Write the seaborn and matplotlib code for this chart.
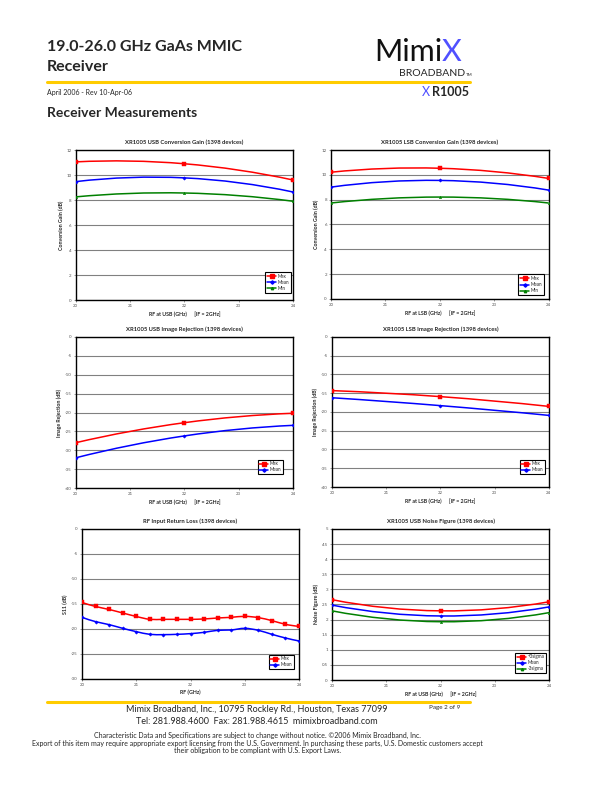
import matplotlib
matplotlib.use("Agg")
import matplotlib.pyplot as plt
import seaborn as sns
from matplotlib.path import Path
from matplotlib.patches import PathPatch
from matplotlib.lines import Line2D

# ---- data ----
freq = [20, 22, 24]

usb_gain_max = [11.05, 10.9, 9.6]
usb_gain_mean = [9.47, 9.77, 8.64]
usb_gain_min = [8.25, 8.56, 7.9]

lsb_gain_max = [10.21, 10.53, 9.71]
lsb_gain_mean = [9.01, 9.55, 8.77]
lsb_gain_min = [7.73, 8.21, 7.73]

usb_ir_max = [-28.0, -22.7, -20.2]
usb_ir_mean = [-32.0, -26.2, -23.4]

lsb_ir_max = [-14.3, -15.9, -18.5]
lsb_ir_mean = [-16.2, -18.3, -20.9]

rl_freq = [20, 20.25, 20.5, 20.75, 21, 21.25, 21.5, 21.75, 22,
           22.25, 22.5, 22.75, 23, 23.25, 23.5, 23.75, 24]
rl_max = [-14.7, -15.5, -16.1, -16.8, -17.5, -18.07, -18.07, -18.07, -18.07,
          -18.0, -17.8, -17.67, -17.47, -17.73, -18.33, -19.07, -19.47]
rl_mean = [-17.67, -18.53, -19.13, -19.87, -20.53, -21.07, -21.13, -21.07, -20.93,
           -20.67, -20.27, -20.2, -19.87, -20.27, -21.07, -21.8, -22.4]

nf_plus3 = [2.66, 2.29, 2.59]
nf_mean = [2.48, 2.12, 2.42]
nf_minus3 = [2.29, 1.93, 2.23]

RED, BLUE, GREEN = "#ff0000", "#0000ff", "#008000"
GOLD = "#ffcc00"

sns.set_theme(style="white")
plt.rcParams["font.family"] = ["Lato", "DejaVu Sans"]
plt.rcParams["axes.unicode_minus"] = False


def smooth_line(ax, x, y, color):
    # Excel-style smoothed line: cubic bezier through the points
    n = len(x)
    m = [0.0] * n
    for i in range(1, n - 1):
        m[i] = (y[i + 1] - y[i - 1]) / (x[i + 1] - x[i - 1])
    m[0] = 2 * (y[1] - y[0]) / (x[1] - x[0]) - m[1]
    m[-1] = 2 * (y[-1] - y[-2]) / (x[-1] - x[-2]) - m[-2]
    verts = [(x[0], y[0])]
    codes = [Path.MOVETO]
    for i in range(n - 1):
        h = (x[i + 1] - x[i]) / 3
        verts += [(x[i] + h, y[i] + m[i] * h),
                  (x[i + 1] - h, y[i + 1] - m[i + 1] * h),
                  (x[i + 1], y[i + 1])]
        codes += [Path.CURVE4] * 3
    ax.add_patch(PathPatch(Path(verts, codes), facecolor="none",
                           edgecolor=color, lw=1.1, zorder=3))


def chart(rect, title, xlabel, ylabel, ylim, ystep, series, xvals, leg_anchor):
    ax = fig.add_axes(rect)
    handles = []
    for label, vals, color, marker, ms in series:
        smooth_line(ax, xvals, vals, color)
        sns.scatterplot(x=xvals, y=vals, ax=ax, color=color, marker=marker,
                        s=ms, edgecolor=color, linewidth=0.3, zorder=4, legend=False)
        handles.append(Line2D([], [], color=color, lw=1.1, marker=marker,
                              markersize=ms ** 0.5, label=label))
    ax.set_xlim(20, 24)
    ax.set_ylim(*ylim)
    ax.set_xticks([20, 21, 22, 23, 24])
    ticks = []
    t = ylim[0]
    while t <= ylim[1] + 1e-9:
        ticks.append(round(t, 2))
        t += ystep
    ax.set_yticks(ticks)
    ax.set_yticklabels([f"{v:g}" for v in ticks])
    ax.yaxis.grid(True, color="#808080", lw=0.8)
    ax.xaxis.grid(False)
    for sp in ax.spines.values():
        sp.set_color("black")
        sp.set_linewidth(1.0)
    ax.tick_params(labelsize=3.2, colors="#555555", length=1.5, width=0.4, pad=1.5)
    ax.tick_params(axis="both", which="both", bottom=True, left=True)
    ax.set_title(title, fontsize=4.2, fontweight="bold", pad=4)
    ax.set_xlabel(xlabel, fontsize=3.8, fontweight="bold", labelpad=2)
    ax.set_ylabel(ylabel, fontsize=3.8, fontweight="bold", labelpad=2)
    leg = ax.legend(handles=handles, loc="lower right", bbox_to_anchor=leg_anchor,
                    fontsize=3.3, frameon=True, fancybox=False, framealpha=1,
                    edgecolor="black", borderpad=0.35, labelspacing=0.25,
                    handlelength=2.0, handletextpad=0.3, borderaxespad=0)
    leg.get_frame().set_linewidth(0.8)
    return ax


fig = plt.figure(figsize=(6.12, 7.92), dpi=100)

gain_series = lambda mx, mn, lo: [("Max", mx, RED, "s", 7), ("Mean", mn, BLUE, "D", 3),
                                  ("Min", lo, GREEN, "^", 3)]

chart([0.1237, 0.6212, 0.3551, 0.1894], "XR1005 USB Conversion Gain (1398 devices)",
      "RF at USB (GHz)      [IF = 2GHz]", "Conversion Gain (dB)", (0, 12), 2,
      gain_series(usb_gain_max, usb_gain_mean, usb_gain_min), freq, (0.99, 0.05))
chart([0.5408, 0.6225, 0.3557, 0.1881], "XR1005 LSB Conversion Gain (1398 devices)",
      "RF at LSB (GHz)      [IF = 2GHz]", "Conversion Gain (dB)", (0, 12), 2,
      gain_series(lsb_gain_max, lsb_gain_mean, lsb_gain_min), freq, (0.978, 0.027))
chart([0.1237, 0.3838, 0.3551, 0.1907], "XR1005 USB Image Rejection (1398 devices)",
      "RF at USB (GHz)      [IF = 2GHz]", "Image Rejection (dB)", (-40, 0), 5,
      [("Max", usb_ir_max, RED, "s", 7), ("Mean", usb_ir_mean, BLUE, "D", 3)],
      freq, (0.954, 0.093))
chart([0.5425, 0.3851, 0.3541, 0.1894], "XR1005 LSB Image Rejection (1398 devices)",
      "RF at LSB (GHz)      [IF = 2GHz]", "Image Rejection (dB)", (-40, 0), 5,
      [("Max", lsb_ir_max, RED, "s", 7), ("Mean", lsb_ir_mean, BLUE, "D", 3)],
      freq, (0.983, 0.087))
chart([0.1340, 0.1427, 0.3546, 0.1894], "RF Input Return Loss (1398 devices)",
      "RF (GHz)", "S11 (dB)", (-30, 0), 5,
      [("Max", rl_max, RED, "s", 7), ("Mean", rl_mean, BLUE, "D", 3)],
      rl_freq, (0.977, 0.067))
chart([0.5425, 0.1414, 0.3546, 0.1907], "XR1005 USB Noise Figure (1398 devices)",
      "RF at USB (GHz)      [IF = 2GHz]", "Noise Figure (dB)", (0, 5), 0.5,
      [("+3sigma", nf_plus3, RED, "s", 7), ("Mean", nf_mean, BLUE, "D", 3),
       ("-3sigma", nf_minus3, GREEN, "^", 3)], freq, (0.986, 0.046))

# ---- page header ----
W, H = 612, 792
def px(x, y):
    return x / W, 1 - y / H

fig.text(*px(47, 47), "19.0-26.0 GHz GaAs MMIC", fontsize=11.5, fontweight="bold",
         va="center", ha="left")
fig.text(*px(47, 67), "Receiver", fontsize=11.5, fontweight="bold", va="center", ha="left")
fig.add_artist(Line2D([47 / W, 470 / W], [1 - 82 / H] * 2, color=GOLD, lw=2.2))
fig.text(*px(47, 92), "April 2006 - Rev 10-Apr-06", fontsize=5, va="center", ha="left")
fig.text(*px(47, 113), "Receiver Measurements", fontsize=10, fontweight="bold",
         va="center", ha="left")

# logo
fig.text(*px(442, 52), "Mimi", fontsize=22, va="center", ha="right", color="#111111")
fig.text(*px(442, 52), "X", fontsize=22, color="#5050ff", va="center", ha="left")
fig.text(*px(465, 73), "BROADBAND", fontsize=7.5, va="center", ha="right")
fig.text(*px(466, 75), "TM", fontsize=3.2, va="center", ha="left")
fig.text(*px(430, 92), "X", fontsize=9, color="#5050ff", va="center", ha="right")
fig.text(*px(432, 92), "R1005", fontsize=9, fontweight="bold", va="center", ha="left")

# ---- page footer ----
fig.add_artist(Line2D([47 / W, 470 / W], [1 - 701.5 / H] * 2, color=GOLD, lw=2.2))
fig.text(*px(257, 709.5), "Mimix Broadband, Inc., 10795 Rockley Rd., Houston, Texas 77099",
         fontsize=6.5, ha="center", va="center")
fig.text(*px(257, 721), "Tel: 281.988.4600  Fax: 281.988.4615  mimixbroadband.com",
         fontsize=6.5, ha="center", va="center")
fig.text(*px(460, 707), "Page 2 of 9", fontsize=4.5, ha="right", va="center")
fig.text(*px(257, 735), "Characteristic Data and Specifications are subject to change "
         "without notice. \u00a92006 Mimix Broadband, Inc.", fontsize=5, ha="center", va="center")
fig.text(*px(257, 743), "Export of this item may require appropriate export licensing from "
         "the U.S. Government. In purchasing these parts, U.S. Domestic customers accept",
         fontsize=5, ha="center", va="center")
fig.text(*px(257, 750), "their obligation to be compliant with U.S. Export Laws.",
         fontsize=5, ha="center", va="center")

fig.savefig("out.png", dpi=100)
